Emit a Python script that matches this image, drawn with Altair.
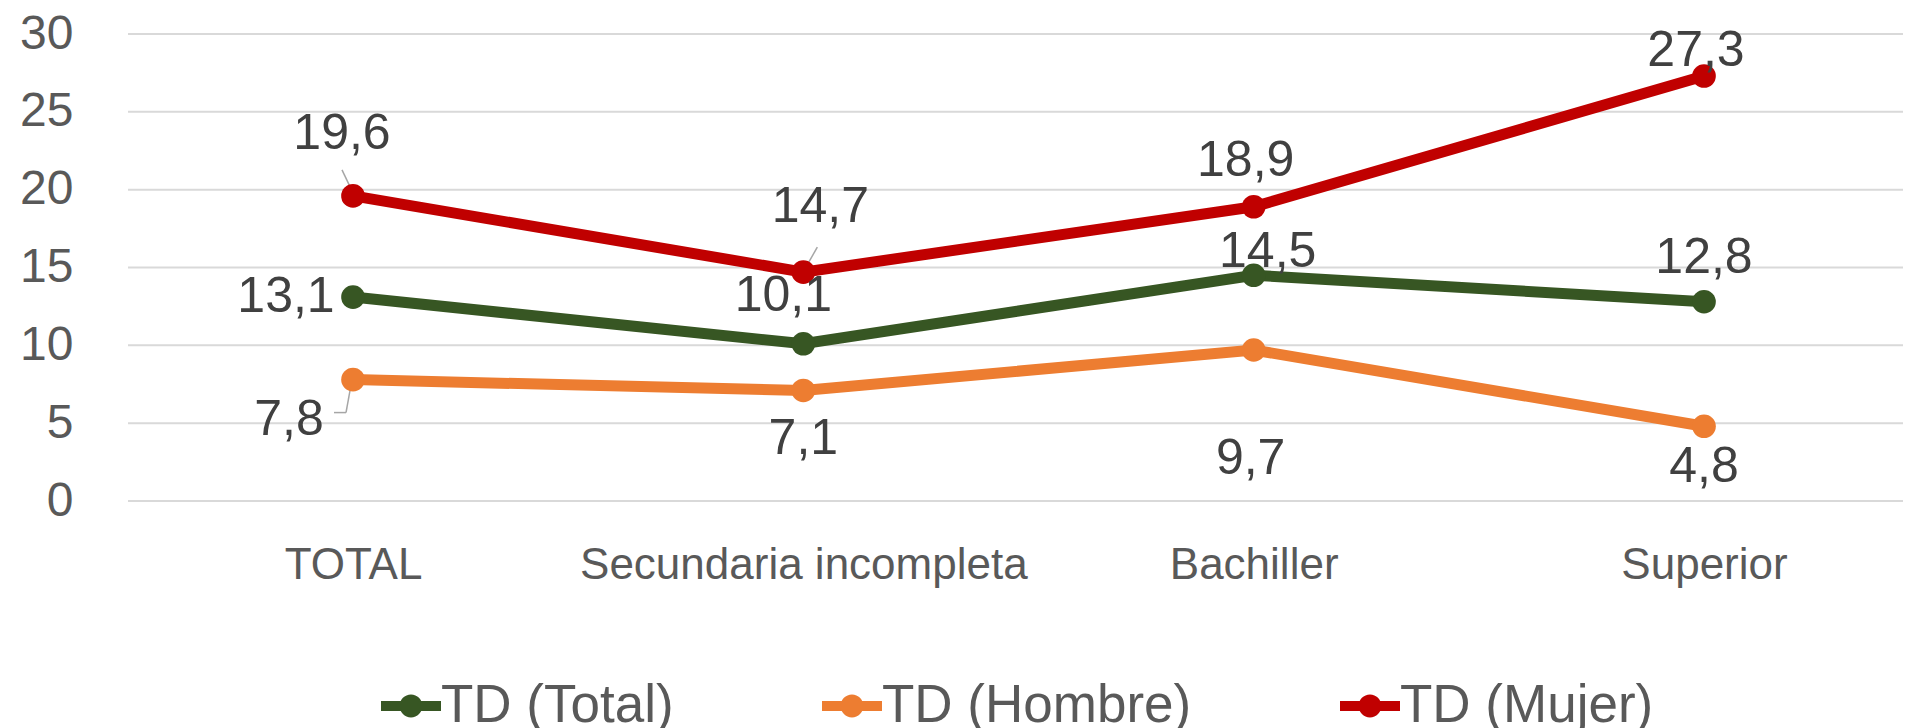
import altair as alt
import pandas as pd

categories = ["TOTAL", "Secundaria incompleta", "Bachiller", "Superior"]
series_names = ["TD (Total)", "TD (Hombre)", "TD (Mujer)"]
td_total = [13.1, 10.1, 14.5, 12.8]
td_hombre = [7.8, 7.1, 9.7, 4.8]
td_mujer = [19.6, 14.7, 18.9, 27.3]
y_ticks = [0, 5, 10, 15, 20, 25, 30]
colors = ["#375623", "#ED7D31", "#C00000"]

rows = []
for name, vals in zip(series_names, [td_total, td_hombre, td_mujer]):
    for c, v in zip(categories, vals):
        rows.append({"cat": c, "serie": name, "valor": v,
                     "etiqueta": f"{v:.1f}".replace(".", ",")})
df = pd.DataFrame(rows)
grid_df = pd.DataFrame({"valor": y_ticks})

FONT = "Liberation Sans"
W, H = 1775, 467

x_scale = alt.Scale(type="point", range=[225, 1576], padding=0)
y_scale = alt.Scale(domain=[0, 30], nice=False)

x_enc = alt.X("cat:N", sort=categories, scale=x_scale,
              axis=alt.Axis(title=None, labelFontSize=44, labelFont=FONT,
                            labelColor="#595959", domain=False, ticks=False,
                            labelPadding=42, labelAngle=0, grid=False,
                            labelLimit=0))
y_enc = alt.Y("valor:Q", scale=y_scale,
              axis=alt.Axis(title=None, values=y_ticks,
                            labelFontSize=48, labelFont=FONT, labelColor="#595959",
                            domain=False, ticks=False, labelPadding=55,
                            grid=False))

sym = ("M-1,-0.17 L1,-0.17 L1,0.17 L-1,0.17 Z "
       "M0.38,0 A0.38,0.38 0 1,1 -0.38,0 A0.38,0.38 0 1,1 0.38,0 Z")
legend = alt.Legend(orient="none", legendX=253, legendY=642,
                    direction="horizontal", title=None,
                    symbolType=sym, symbolSize=3600,
                    symbolStrokeWidth=0, symbolOpacity=1,
                    labelFontSize=53, labelFont=FONT,
                    labelColor="#595959", labelOffset=0,
                    columnPadding=148, padding=0, labelLimit=0)
color_enc = alt.Color("serie:N", sort=series_names,
                      scale=alt.Scale(domain=series_names, range=colors),
                      legend=legend)

gridlines = alt.Chart(grid_df).mark_rule(color="#D9D9D9", strokeWidth=2).encode(
    y=alt.Y("valor:Q", scale=y_scale), x=alt.value(0), x2=alt.value(W))

base = alt.Chart(df)
lines = base.mark_line(strokeWidth=11).encode(x=x_enc, y=y_enc, color=color_enc)
points = base.mark_point(filled=True, size=560, opacity=1).encode(
    x=x_enc, y=y_enc, color=color_enc)

# leader lines: (series, category, pixel offsets of both ends)
leaders = [
    ("TD (Mujer)", "TOTAL", (-11, -26, -1, -5)),
    ("TD (Mujer)", "Secundaria incompleta", (14, -25, 2, -4)),
    ("TD (Hombre)", "TOTAL", (-1, 0, -7, 33)),
    ("TD (Hombre)", "TOTAL", (-7, 33, -19, 33)),
]
leader_layers = []
for s, c, (ox1, oy1, ox2, oy2) in leaders:
    leader_layers.append(
        base.transform_filter((alt.datum.serie == s) & (alt.datum.cat == c))
        .mark_rule(color="#A6A6A6", strokeWidth=1.5, xOffset=ox1, yOffset=oy1,
                   x2Offset=ox2, y2Offset=oy2)
        .encode(x=x_enc, x2=alt.X2("cat"), y=y_enc, y2=alt.Y2("valor"))
    )

offsets = {
    ("TD (Mujer)", "TOTAL"): (-11, -62),
    ("TD (Total)", "TOTAL"): (-67, 0),
    ("TD (Hombre)", "TOTAL"): (-64, 40),
    ("TD (Mujer)", "Secundaria incompleta"): (17, -65),
    ("TD (Total)", "Secundaria incompleta"): (-20, -48),
    ("TD (Hombre)", "Secundaria incompleta"): (0, 49),
    ("TD (Mujer)", "Bachiller"): (-8, -46),
    ("TD (Total)", "Bachiller"): (14, -23),
    ("TD (Hombre)", "Bachiller"): (-3, 109),
    ("TD (Mujer)", "Superior"): (-8, -25),
    ("TD (Total)", "Superior"): (0, -44),
    ("TD (Hombre)", "Superior"): (0, 41),
}
texts = []
for (s, c), (dx, dy) in offsets.items():
    texts.append(
        base.transform_filter((alt.datum.serie == s) & (alt.datum.cat == c))
        .mark_text(dx=dx, dy=dy, fontSize=50, font=FONT, color="#404040",
                   align="center", baseline="middle")
        .encode(x=x_enc, y=y_enc, text="etiqueta:N")
    )

chart = alt.layer(gridlines, *leader_layers, lines, points, *texts).properties(
    width=W, height=H,
    autosize=alt.AutoSizeParams(type="none"),
    padding={"left": 120, "top": 26, "right": 0, "bottom": 228},
).configure(background="white").configure_view(stroke=None)

chart.save("out.html", embed_options={"renderer": "svg", "actions": False})
